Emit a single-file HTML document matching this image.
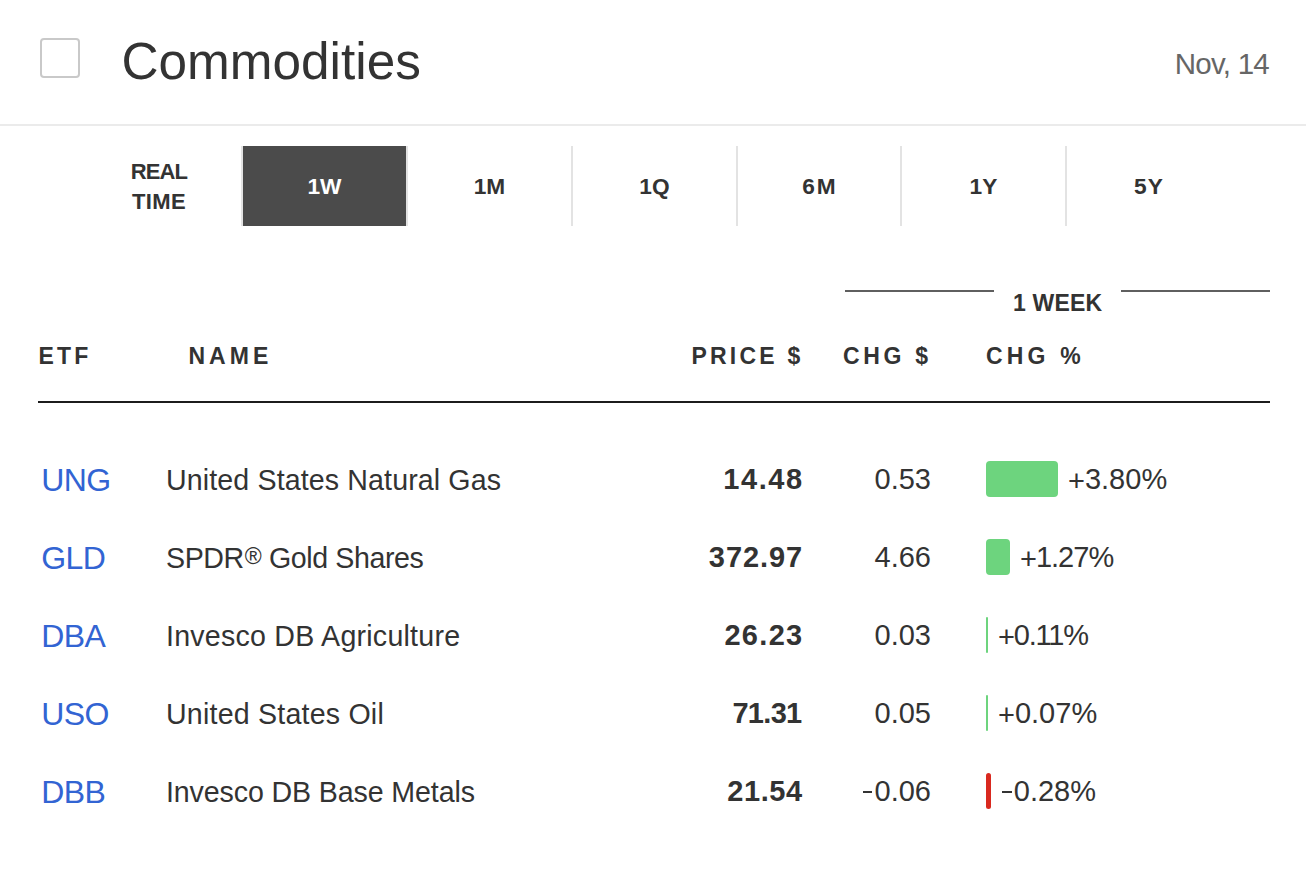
<!DOCTYPE html>
<html>
<head>
<meta charset="utf-8">
<style>
html,body{margin:0;padding:0;background:#fff;}
body{width:1306px;height:880px;position:relative;overflow:hidden;font-family:"Liberation Sans",sans-serif;color:#333;}
.a{position:absolute;white-space:nowrap;line-height:1;}
.box{position:absolute;left:40px;top:38px;width:36px;height:36px;border:2px solid #c9c9c9;border-radius:4px;}
.title{left:121.5px;top:35.8px;font-size:51.3px;color:#333;}
.date{right:37px;top:48.5px;font-size:29.5px;color:#666;letter-spacing:-0.75px;}
.hr1{position:absolute;left:0;top:124px;width:1306px;height:2px;background:#ebebeb;}
.rt{position:absolute;left:77px;top:156.5px;width:164px;text-align:center;font-size:22px;font-weight:bold;line-height:30px;color:#333;}
.tab{position:absolute;top:146px;height:80px;border-left:2px solid #e3e3e3;box-sizing:border-box;text-align:center;font-size:22.7px;font-weight:bold;line-height:80px;color:#333;}
.tab.on{background:#4b4b4b;color:#fff;}
.wk{left:845px;width:425px;top:290px;height:2px;position:absolute;}
.wkl{position:absolute;top:290px;height:2px;background:#5f5f5f;}
.hdr{font-size:23px;font-weight:bold;letter-spacing:3.5px;color:#333;}
.hr2{position:absolute;left:38px;top:401px;width:1232px;height:2px;background:#1c1c1c;}
.tk{font-size:32px;color:#3264d3;letter-spacing:-0.6px;}
.nm{font-size:28.6px;color:#333;}
.pr{font-size:29px;font-weight:bold;color:#333;letter-spacing:1.3px;}
.ch{font-size:29px;color:#333;}
.bar{position:absolute;left:986px;height:36px;border-radius:4px;}
.g{background:#6dd47e;}
.r{background:#d9291f;}
.pc{font-size:29px;color:#333;}
.reg{font-size:23px;vertical-align:top;position:relative;top:0.5px;margin-left:1px;}
.pl{position:relative;top:2px;}
.mn{display:inline-block;width:9.5px;height:2.3px;background:#333;vertical-align:top;position:relative;top:14px;margin:0 2.3px 0 1px;}
</style>
</head>
<body>
<div class="box"></div>
<div class="a title">Commodities</div>
<div class="a date">Nov, 14</div>
<div class="hr1"></div>

<div class="rt"><span style="letter-spacing:-0.9px">REAL</span><br><span style="letter-spacing:0.4px">TIME</span></div>
<div class="tab on" style="left:241px;width:165px;">1W</div>
<div class="tab" style="left:406px;width:165px;">1M</div>
<div class="tab" style="left:571px;width:165px;">1Q</div>
<div class="tab" style="left:736px;width:164px;letter-spacing:2px;text-indent:2px;">6M</div>
<div class="tab" style="left:900px;width:165px;">1Y</div>
<div class="tab" style="left:1065px;width:165px;letter-spacing:1px;text-indent:1px;">5Y</div>

<div class="wkl" style="left:845px;width:149px;"></div>
<div class="wkl" style="left:1121px;width:149px;"></div>
<div class="a hdr" style="left:1013px;top:292px;letter-spacing:0.2px;">1 WEEK</div>

<div class="a hdr" style="left:38.5px;top:345px;letter-spacing:3.2px;">ETF</div>
<div class="a hdr" style="left:188.5px;top:345px;letter-spacing:4px;">NAME</div>
<div class="a hdr" style="left:691.5px;top:345px;letter-spacing:3.2px;">PRICE $</div>
<div class="a hdr" style="left:843px;top:345px;letter-spacing:3.7px;">CHG $</div>
<div class="a hdr" style="left:986px;top:345px;letter-spacing:4.2px;">CHG %</div>
<div class="hr2"></div>

<!-- rows -->
<div class="a tk" style="left:41.3px;top:463.5px;">UNG</div>
<div class="a nm" style="left:166px;top:466px;letter-spacing:0.12px;">United States Natural Gas</div>
<div class="a pr" style="right:502.2px;top:465px;letter-spacing:1.6px;">14.48</div>
<div class="a ch" style="right:375px;top:465px;">0.53</div>
<div class="bar g" style="top:461px;width:72px;"></div>
<div class="a pc" style="left:1068px;top:465px;"><span class="pl">+</span>3.80%</div>

<div class="a tk" style="left:41.3px;top:541.5px;">GLD</div>
<div class="a nm" style="left:166px;top:544px;letter-spacing:-0.4px;">SPDR<span class="reg">®</span> Gold Shares</div>
<div class="a pr" style="right:502.8px;top:543px;letter-spacing:0.95px;">372.97</div>
<div class="a ch" style="right:375px;top:543px;">4.66</div>
<div class="bar g" style="top:539px;width:24px;"></div>
<div class="a pc" style="left:1020px;top:543px;letter-spacing:-1px;"><span class="pl">+</span>1.27%</div>

<div class="a tk" style="left:41.3px;top:619.5px;">DBA</div>
<div class="a nm" style="left:166px;top:622px;letter-spacing:0.23px;">Invesco DB Agriculture</div>
<div class="a pr" style="right:502.5px;top:621px;">26.23</div>
<div class="a ch" style="right:375px;top:621px;">0.03</div>
<div class="bar g" style="top:617px;width:2px;border-radius:1px;"></div>
<div class="a pc" style="left:998px;top:621px;letter-spacing:-1.2px;"><span class="pl">+</span>0.11%</div>

<div class="a tk" style="left:41.3px;top:697.5px;">USO</div>
<div class="a nm" style="left:166px;top:700px;letter-spacing:0.2px;">United States Oil</div>
<div class="a pr" style="right:504.5px;top:699px;letter-spacing:-0.7px;">71.31</div>
<div class="a ch" style="right:375px;top:699px;">0.05</div>
<div class="bar g" style="top:695px;width:2px;border-radius:1px;"></div>
<div class="a pc" style="left:998px;top:699px;"><span class="pl">+</span>0.07%</div>

<div class="a tk" style="left:41.3px;top:775.5px;">DBB</div>
<div class="a nm" style="left:166px;top:778px;letter-spacing:-0.12px;">Invesco DB Base Metals</div>
<div class="a pr" style="right:503.2px;top:777px;letter-spacing:0.6px;">21.54</div>
<div class="a ch" style="right:375px;top:777px;"><span class="mn"></span>0.06</div>
<div class="bar r" style="top:773px;width:5px;border-radius:2.5px;"></div>
<div class="a pc" style="left:1001px;top:777px;"><span class="mn"></span>0.28%</div>
</body>
</html>
